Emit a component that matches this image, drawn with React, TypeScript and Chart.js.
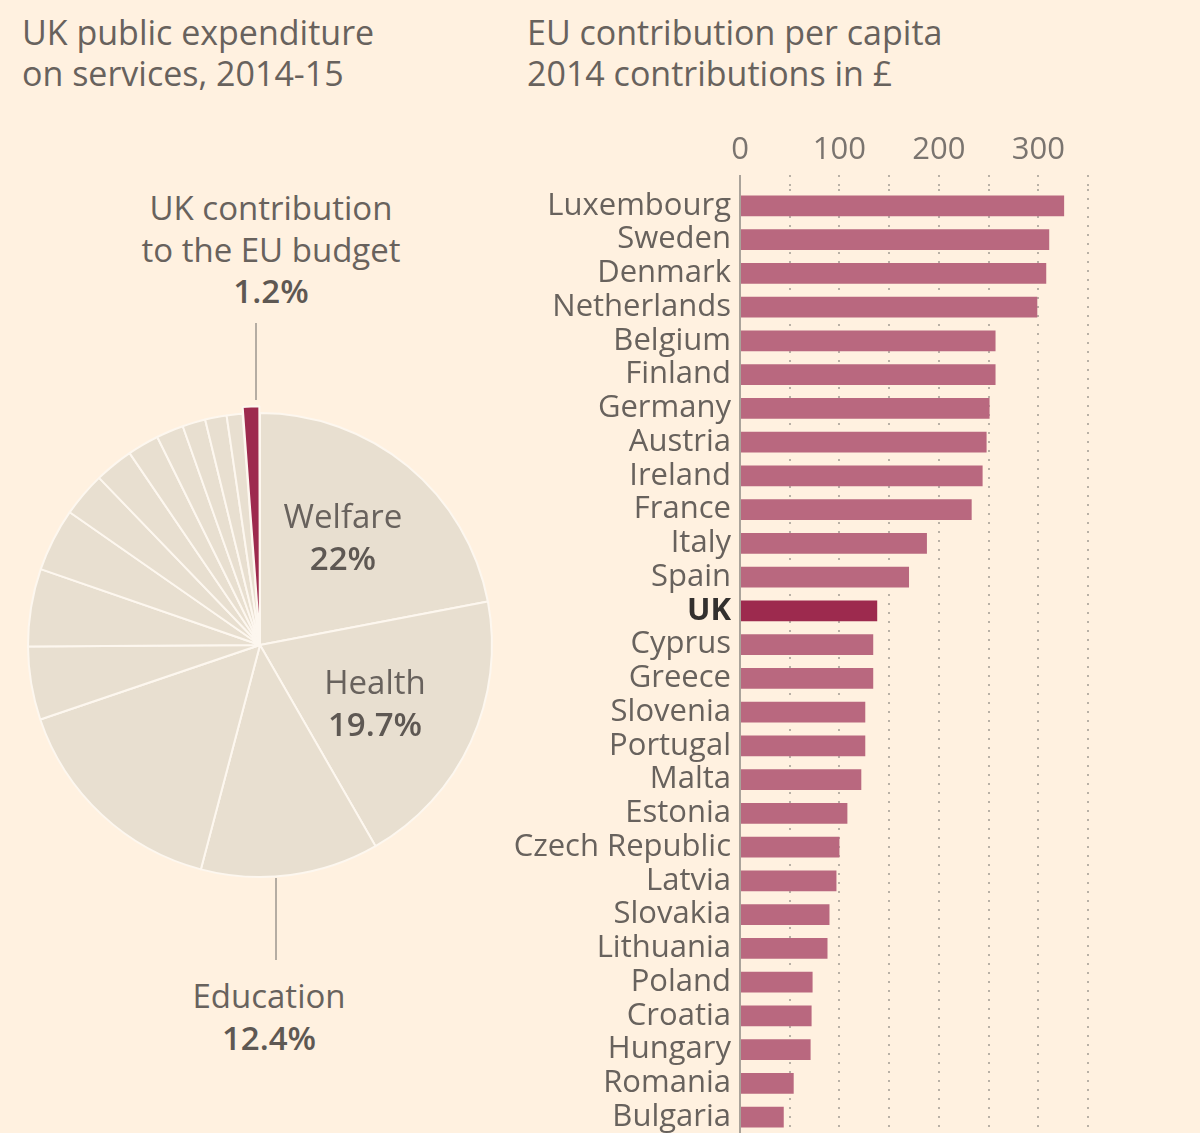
import React, { useEffect, useRef } from 'react';
import { Chart, registerables } from 'chart.js';

Chart.register(...registerables);

// ---- Data ----
const countries = [
  'Luxembourg', 'Sweden', 'Denmark', 'Netherlands', 'Belgium', 'Finland', 'Germany',
  'Austria', 'Ireland', 'France', 'Italy', 'Spain', 'UK', 'Cyprus', 'Greece', 'Slovenia',
  'Portugal', 'Malta', 'Estonia', 'Czech Republic', 'Latvia', 'Slovakia', 'Lithuania',
  'Poland', 'Croatia', 'Hungary', 'Romania', 'Bulgaria',
];
const contributions = [
  326, 311, 308, 299, 257, 257, 251, 248, 244, 233, 188, 170, 138, 134, 134, 126,
  126, 122, 108, 100, 97, 90, 88, 73, 72, 71, 54, 44,
];
const xTickLabels = [0, 100, 200, 300];
const xGridStep = 50;
const xMax = 350;

const spendingCategories = [
  'Welfare', 'Health', 'Education', 'Other 1', 'Other 2', 'Other 3', 'Other 4', 'Other 5',
  'Other 6', 'Other 7', 'Other 8', 'Other 9', 'Other 10', 'Other 11',
  'UK contribution to the EU budget',
];
const spendingShares = [22, 19.7, 12.4, 15.7, 5.1, 5.4, 4.4, 3.1, 2.7, 2.2, 1.9, 1.6, 1.5, 1.1, 1.2];

// ---- Style ----
const BG = '#fff1e0';
const TEXT = '#68625d';
const DARK = '#33302e';
const BAR = '#b9687f';
const CLARET = '#9d2a4e';
const PIE_FILL = '#e8dfd0';
const PIE_BORDER = '#fdf7ef';
const GRID = '#b9b1a6';
const AXIS = '#aaa39a';
const FONT = '"Open Sans", sans-serif';

export default function App() {
  const pieRef = useRef<HTMLCanvasElement>(null);
  const barRef = useRef<HTMLCanvasElement>(null);

  useEffect(() => {
    document.body.style.margin = '0';
    document.body.style.background = BG;
    const lastIdx = spendingCategories.length - 1;
    const pie = new Chart(pieRef.current!, {
      type: 'pie',
      data: {
        labels: spendingCategories,
        datasets: [
          {
            data: spendingShares,
            backgroundColor: spendingCategories.map((_, i) => (i === lastIdx ? CLARET : PIE_FILL)),
            borderColor: PIE_BORDER,
            borderWidth: 2,
            offset: spendingCategories.map((_, i) => (i === lastIdx ? 14 : 0)),
          },
        ],
      },
      options: {
        responsive: false,
        animation: false,
        events: [],
        radius: 232,
        layout: { padding: 0 },
        plugins: { legend: { display: false }, tooltip: { enabled: false } },
      } as any,
    });

    const gridValues: number[] = [];
    for (let v = 0; v <= xMax; v += xGridStep) gridValues.push(v);

    const bar = new Chart(barRef.current!, {
      type: 'bar',
      data: {
        labels: countries,
        datasets: [
          {
            data: contributions,
            backgroundColor: countries.map((c) => (c === 'UK' ? CLARET : BAR)),
            borderWidth: 0,
            barPercentage: 0.62,
            categoryPercentage: 1,
          },
        ],
      },
      options: {
        indexAxis: 'y',
        responsive: false,
        animation: false,
        events: [],
        layout: { padding: { left: 0, right: 112, top: 0, bottom: 0 } },
        plugins: { legend: { display: false }, tooltip: { enabled: false } },
        scales: {
          x: {
            position: 'top',
            min: 0,
            max: xMax,
            afterFit: (s: any) => {
              s.height = 69;
              s.paddingLeft = 0;
              s.paddingRight = 0;
            },
            afterBuildTicks: (s: any) => {
              s.ticks = gridValues.map((v) => ({ value: v }));
            },
            ticks: {
              autoSkip: false,
              maxRotation: 0,
              padding: 6,
              color: '#7a746f',
              font: { family: FONT, size: 31 },
              callback: (v: any) => (xTickLabels.includes(Number(v)) ? String(v) : ''),
            },
            grid: {
              color: GRID,
              lineWidth: 2,
              drawTicks: true,
              tickLength: 14,
              tickColor: (ctx: any) => (ctx.tick && ctx.tick.value === 0 ? AXIS : GRID),
              tickWidth: 2,
              tickBorderDash: (ctx: any) => (ctx.tick && ctx.tick.value === 0 ? [] : [2, 7]),
            },
            border: { display: false, dash: [2, 7] },
          },
          y: {
            afterFit: (s: any) => {
              s.width = 300;
              s.paddingTop = 0;
              s.paddingBottom = 0;
            },
            grid: { display: false, drawTicks: false },
            border: { display: true, color: AXIS, width: 2 },
            ticks: {
              autoSkip: false,
              padding: 9,
              color: (ctx: any) => (countries[ctx.index] === 'UK' ? DARK : TEXT),
              font: (ctx: any) => ({
                family: FONT,
                size: 31,
                weight: countries[ctx.index] === 'UK' ? 'bold' : 'normal',
              }),
            },
          },
        },
      } as any,
    });

    return () => {
      pie.destroy();
      bar.destroy();
    };
  }, []);

  const label = (x: number, top: number, lines: [string, boolean][], size = 33) => (
    <div
      style={{
        position: 'absolute',
        left: x,
        top,
        transform: 'translateX(-50%)',
        textAlign: 'center',
        whiteSpace: 'nowrap',
        fontSize: size,
        lineHeight: '41.5px',
        color: TEXT,
      }}
    >
      {lines.map(([t, b], i) => (
        <div key={i} style={{ fontWeight: b ? 600 : 400, color: b ? '#5e5853' : TEXT }}>
          {t}
        </div>
      ))}
    </div>
  );

  return (
    <div
      style={{
        position: 'absolute',
        left: 0,
        top: 0,
        width: 1200,
        height: 1133,
        background: BG,
        overflow: 'hidden',
        fontFamily: FONT,
      }}
    >
      <div style={{ position: 'absolute', left: 22, top: 12, fontSize: 34, lineHeight: '41px', color: TEXT }}>
        <div>UK public expenditure</div>
        <div>on services, 2014-15</div>
      </div>
      <div style={{ position: 'absolute', left: 527, top: 12, fontSize: 34, lineHeight: '41px', color: TEXT }}>
        <div>EU contribution per capita</div>
        <div>2014 contributions in £</div>
      </div>

      <canvas
        ref={pieRef}
        width={500}
        height={500}
        style={{ position: 'absolute', left: 10, top: 395, width: 500, height: 500 }}
      />
      <canvas
        ref={barRef}
        width={760}
        height={1014}
        style={{ position: 'absolute', left: 440, top: 120, width: 760, height: 1014 }}
      />

      <div style={{ position: 'absolute', left: 255, top: 323, width: 2, height: 77, background: '#b5ada3' }} />
      <div style={{ position: 'absolute', left: 275, top: 878, width: 2, height: 82, background: '#b5ada3' }} />

      {label(271, 187, [['UK contribution', false], ['to the EU budget', false], ['1.2%', true]])}
      {label(343, 495, [['Welfare', false], ['22%', true]])}
      {label(375, 661, [['Health', false], ['19.7%', true]])}
      {label(269, 975, [['Education', false], ['12.4%', true]])}
    </div>
  );
}
